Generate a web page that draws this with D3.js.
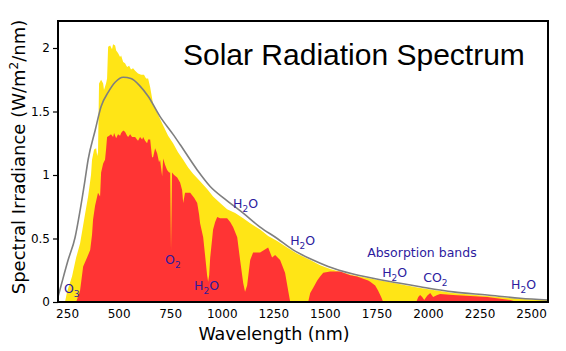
<!DOCTYPE html>
<html>
<head>
<meta charset="utf-8">
<script src="https://cdn.jsdelivr.net/npm/d3@7"></script>
<style>
  body { margin: 0; background: #fff; }
  svg { display: block; }
</style>
</head>
<body>
<script>
// values: [wavelength nm, W/m2/nm]
const topOfAtmosphere = [
  [240, 0], [250, 0.08], [274, 0.20], [294, 0.35], [313, 0.46], [337, 0.69], [352, 0.83],
  [366, 1.0], [371, 1.12], [381, 1.20], [391, 1.21], [396, 1.15], [400, 1.18], [405, 1.72],
  [415, 1.75], [425, 1.72], [429, 1.67], [439, 1.72], [444, 1.76], [449, 2.01], [459, 2.02],
  [468, 1.99], [473, 2.03], [483, 2.02], [488, 1.98], [497, 1.96], [507, 1.93], [512, 1.94],
  [522, 1.89], [531, 1.88], [541, 1.85], [551, 1.86], [560, 1.83], [570, 1.84], [580, 1.82],
  [594, 1.80], [609, 1.79], [623, 1.79], [633, 1.76], [643, 1.76], [653, 1.69], [667, 1.56],
  [687, 1.49], [716, 1.39], [740, 1.31], [764, 1.25], [788, 1.18], [813, 1.12], [837, 1.06],
  [861, 1.01], [895, 0.95], [929, 0.89], [958, 0.83], [992, 0.78], [1026, 0.73], [1065, 0.70],
  [1104, 0.66], [1138, 0.62], [1186, 0.57], [1225, 0.52], [1269, 0.48], [1317, 0.43],
  [1366, 0.38], [1429, 0.33], [1477, 0.29], [1526, 0.26], [1637, 0.21], [1802, 0.16],
  [1962, 0.11], [2122, 0.07], [2287, 0.047], [2447, 0.024], [2582, 0.016]
];

const seaLevel = [
  [294, 0], [313, 0.09], [328, 0.28], [347, 0.35], [362, 0.41], [371, 0.53], [376, 0.65],
  [386, 0.76], [400, 0.86], [410, 0.83], [415, 1.02], [425, 1.09], [434, 1.12], [439, 1.20],
  [444, 1.30], [454, 1.31], [463, 1.32], [473, 1.30], [478, 1.33], [488, 1.29], [497, 1.32],
  [507, 1.31], [512, 1.33], [522, 1.35], [531, 1.34], [541, 1.31], [546, 1.30], [556, 1.32],
  [565, 1.30], [580, 1.30], [589, 1.28], [594, 1.27], [604, 1.30], [614, 1.28], [619, 1.30],
  [628, 1.27], [638, 1.25], [643, 1.28], [653, 1.28], [662, 1.14], [667, 1.14], [677, 1.21],
  [687, 1.17], [696, 1.10], [701, 1.12], [711, 0.99], [716, 1.13], [725, 1.08], [735, 1.04],
  [745, 1.02], [750, 1.02], [754, 0.41], [759, 1.02], [769, 1.0], [784, 0.98], [798, 0.94],
  [808, 0.88], [813, 0.78], [822, 0.86], [847, 0.86], [866, 0.82], [881, 0.78], [890, 0.69],
  [895, 0.62], [910, 0.51], [919, 0.37], [929, 0.21], [934, 0.16], [939, 0.21], [944, 0.35],
  [953, 0.49], [958, 0.57], [968, 0.63], [978, 0.67], [992, 0.66], [1026, 0.66], [1041, 0.63],
  [1055, 0.59], [1075, 0.51], [1089, 0.33], [1104, 0.15], [1113, 0.08], [1123, 0.13],
  [1138, 0.33], [1152, 0.39], [1186, 0.39], [1225, 0.43], [1244, 0.35], [1259, 0.37],
  [1283, 0.33], [1307, 0.23], [1322, 0.09], [1332, 0], [1419, 0], [1429, 0.07], [1443, 0.11],
  [1463, 0.17], [1477, 0.20], [1492, 0.23], [1526, 0.24], [1574, 0.24], [1623, 0.21],
  [1656, 0.20], [1710, 0.17], [1720, 0.16], [1744, 0.13], [1758, 0.09], [1773, 0.04],
  [1783, 0], [1943, 0], [1953, 0.04], [1962, 0.055], [1972, 0.04], [1982, 0.016], [1996, 0.05],
  [2011, 0.07], [2025, 0.04], [2045, 0.055], [2059, 0.063], [2122, 0.055], [2287, 0.04],
  [2399, 0.016], [2433, 0]
];

// 5250 C blackbody curve as drawn
const blackbody = [
  [206, 0.04], [221, 0.13], [255, 0.33], [289, 0.51], [313, 0.72], [337, 0.96], [352, 1.12],
  [386, 1.35], [415, 1.54], [449, 1.65], [483, 1.73], [522, 1.77], [560, 1.76], [604, 1.70],
  [643, 1.62], [701, 1.46], [764, 1.32], [798, 1.24], [881, 1.04], [944, 0.91], [1016, 0.81],
  [1104, 0.70], [1186, 0.59], [1269, 0.50], [1346, 0.41], [1429, 0.34], [1516, 0.28],
  [1637, 0.22], [1802, 0.165], [1962, 0.12], [2122, 0.08], [2287, 0.055], [2447, 0.03],
  [2582, 0.016]
];

const xTicks = [250, 500, 750, 1000, 1250, 1500, 1750, 2000, 2250, 2500];
const yTicks = [0, 0.5, 1, 1.5, 2];

// absorption labels: text, subscript, tail, anchor at wavelength/value
const bandLabels = [
  { head: "O", sub: "3", tail: "", wl: 235, val: 0.07 },
  { head: "O", sub: "2", tail: "", wl: 725, val: 0.30 },
  { head: "H", sub: "2", tail: "O", wl: 866, val: 0.094 },
  { head: "H", sub: "2", tail: "O", wl: 1055, val: 0.74 },
  { head: "H", sub: "2", tail: "O", wl: 1332, val: 0.45 },
  { head: "Absorption bands", sub: "", tail: "", wl: 1705, val: 0.354 },
  { head: "H", sub: "2", tail: "O", wl: 1778, val: 0.197 },
  { head: "CO", sub: "2", tail: "", wl: 1977, val: 0.157 },
  { head: "H", sub: "2", tail: "O", wl: 2403, val: 0.10 }
];

const width = 566, height = 351;
const margin = { top: 21, right: 18, bottom: 49, left: 58 };
const plotW = width - margin.left - margin.right;
const plotH = height - margin.top - margin.bottom;

const svg = d3.select("body").append("svg")
  .attr("width", width)
  .attr("height", height);

const g = svg.append("g")
  .attr("transform", `translate(${margin.left},${margin.top})`);

const x = d3.scaleLinear().domain([206, 2582]).range([0, plotW]);
const y = d3.scaleLinear().domain([0, plotH / 127]).range([plotH, 0]);

g.append("clipPath").attr("id", "plot")
  .append("rect").attr("width", plotW).attr("height", plotH);

const area = d3.area()
  .x(d => x(d[0]))
  .y0(y(0))
  .y1(d => y(d[1]));

const marks = g.append("g").attr("clip-path", "url(#plot)");

marks.append("path")
  .datum(topOfAtmosphere)
  .attr("fill", "#ffe516")
  .attr("d", area);

marks.append("path")
  .datum(seaLevel)
  .attr("fill", "#ff3434")
  .attr("d", area);

marks.append("path")
  .datum(blackbody)
  .attr("fill", "none")
  .attr("stroke", "#7f7f7f")
  .attr("stroke-width", 1.6)
  .attr("d", d3.line().x(d => x(d[0])).y(d => y(d[1])).curve(d3.curveMonotoneX));

// Axes
const xAxis = g.append("g")
  .attr("transform", `translate(0,${plotH})`)
  .call(d3.axisBottom(x).tickValues(xTicks).tickSize(0).tickPadding(7).tickFormat(d3.format("d")));

const yAxis = g.append("g")
  .call(d3.axisLeft(y).tickValues(yTicks).tickSize(5).tickPadding(3).tickFormat(d3.format("~g")));

[xAxis, yAxis].forEach(a => {
  a.select(".domain").remove();
  a.selectAll("text")
    .attr("fill", "#000")
    .style("font-family", "DejaVu Sans")
    .style("font-size", "12px");
  a.selectAll("line").attr("stroke", "#000").attr("stroke-width", 1.2);
});

// frame
g.append("rect")
  .attr("width", plotW)
  .attr("height", plotH)
  .attr("fill", "none")
  .attr("stroke", "#000")
  .attr("stroke-width", 2);

// title
g.append("text")
  .attr("x", 125)
  .attr("y", 44)
  .style("font-family", "Liberation Sans, Arial, sans-serif")
  .style("font-size", "30px")
  .attr("fill", "#000")
  .text("Solar Radiation Spectrum");

// band labels
const lab = g.append("g")
  .style("font-family", "DejaVu Sans")
  .style("font-size", "12.5px")
  .attr("fill", "#2d1b9e");

bandLabels.forEach(b => {
  const t = lab.append("text")
    .attr("x", x(b.wl))
    .attr("y", y(b.val));
  t.append("tspan").text(b.head);
  if (b.sub) {
    t.append("tspan").attr("dy", 4).style("font-size", "9px").text(b.sub);
  }
  if (b.tail) {
    t.append("tspan").attr("dy", -4).text(b.tail);
  }
});

// axis titles
svg.append("text")
  .attr("x", 274)
  .attr("y", 340)
  .attr("text-anchor", "middle")
  .style("font-family", "DejaVu Sans")
  .style("font-size", "17.5px")
  .text("Wavelength (nm)");

const yl = svg.append("text")
  .attr("transform", "translate(25,157) rotate(-90)")
  .attr("text-anchor", "middle")
  .style("font-family", "DejaVu Sans")
  .style("font-size", "18px");
yl.append("tspan").text("Spectral Irradiance  (W/m");
yl.append("tspan").attr("dy", -7).style("font-size", "12px").text("2");
yl.append("tspan").attr("dy", 7).text("/nm)");
</script>
</body>
</html>
